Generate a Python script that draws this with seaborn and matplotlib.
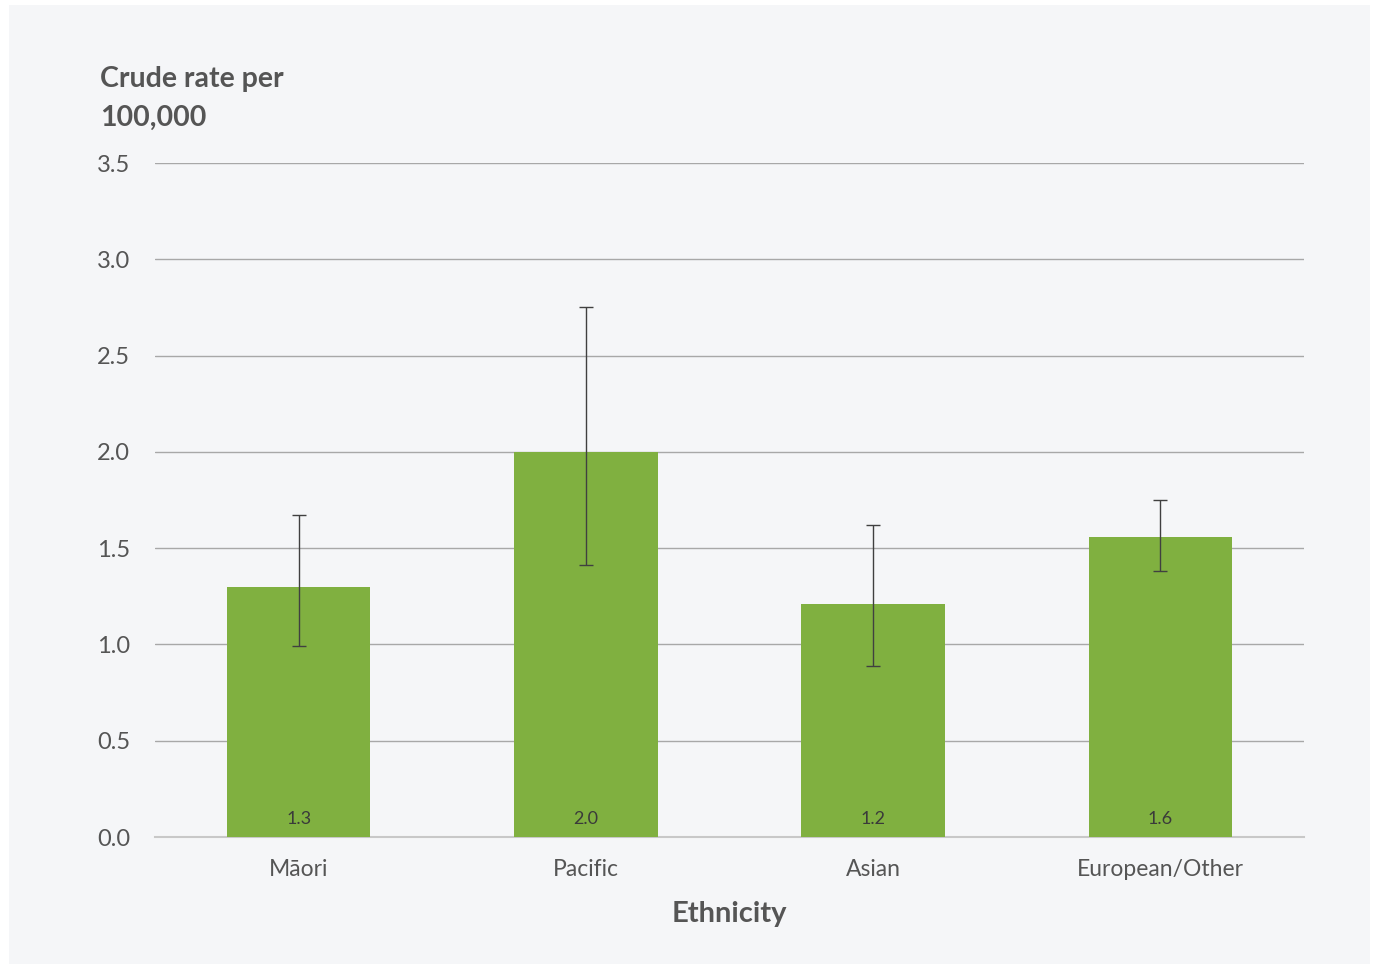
import numpy as np
import pandas as pd
import seaborn as sns
import matplotlib.pyplot as plt
from matplotlib.patches import Rectangle

# data
ethnicity = ["Māori", "Pacific", "Asian", "European/Other"]
rate = [1.30, 2.00, 1.21, 1.56]
rate_labels = ["1.3", "2.0", "1.2", "1.6"]
ci_low = [0.99, 1.41, 0.89, 1.38]
ci_high = [1.67, 2.75, 1.62, 1.75]

sns.set_style("white")
plt.rcParams["font.family"] = ["Lato", "DejaVu Sans"]

BG = "#f5f6f8"
GREEN = "#80b040"
TEXT = "#555555"

fig = plt.figure(figsize=(13.76, 9.65), dpi=100, facecolor="white")
fig.patches.append(Rectangle((9 / 1376, 1 - 964 / 965), 1361 / 1376, 959 / 965,
                             transform=fig.transFigure, facecolor=BG,
                             edgecolor="none", zorder=-10))

ax = fig.add_axes([155 / 1376, 1 - 837 / 965, 1149 / 1376, 674 / 965])
ax.set_facecolor(BG)

df = pd.DataFrame({"Ethnicity": ethnicity, "Rate": rate})
sns.barplot(data=df, x="Ethnicity", y="Rate", color=GREEN, saturation=1,
            width=0.5, linewidth=0, ax=ax, zorder=3)

x = np.arange(len(ethnicity))
yerr = [np.array(rate) - np.array(ci_low), np.array(ci_high) - np.array(rate)]
ax.errorbar(x, rate, yerr=yerr, fmt="none", ecolor="#404040", elinewidth=1,
            capsize=5, capthick=1, zorder=4)

for i, lab in enumerate(rate_labels):
    ax.text(i, 0.05, lab, ha="center", va="bottom", fontsize=13,
            color="#3a3a3a", zorder=5)

ax.set_ylim(0, 3.5)
ax.set_xlim(-0.5, len(ethnicity) - 0.5)
ax.set_yticks(np.arange(0, 3.51, 0.5))
ax.set_yticklabels([f"{v:.1f}" for v in np.arange(0, 3.51, 0.5)])
ax.yaxis.grid(True, color="#a8a8a8", linewidth=1, zorder=1)
ax.set_axisbelow(True)
for s in ["top", "right", "left"]:
    ax.spines[s].set_visible(False)
ax.spines["bottom"].set_color("#c8c8c8")
ax.spines["bottom"].set_linewidth(1.5)
ax.tick_params(axis="both", length=0, labelsize=17, labelcolor=TEXT)
ax.tick_params(axis="x", labelsize=16.5, pad=16)
ax.tick_params(axis="y", pad=18)

ax.set_ylabel("")
ax.set_xlabel("Ethnicity", fontsize=21, fontweight="bold", color=TEXT,
              labelpad=15)

fig.text(100 / 1376, 1 - 66 / 965, "Crude rate per\n100,000", ha="left", va="top",
         fontsize=20.5, fontweight="bold", color=TEXT, linespacing=1.6)

fig.savefig("out.png", dpi=100, facecolor="white")
